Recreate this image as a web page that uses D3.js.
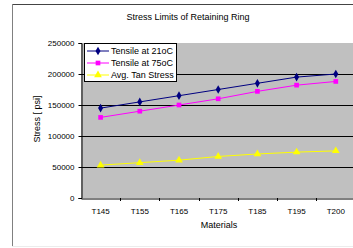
<!DOCTYPE html>
<html><head><meta charset="utf-8">
<script src="https://cdn.jsdelivr.net/npm/d3@7"></script>
<style>html,body{margin:0;padding:0;background:#fff;}svg{display:block;font-family:"Liberation Sans",Arial,sans-serif;}</style>
</head><body>
<svg id="c" width="353" height="248"></svg>
<script>
const categories = ["T145","T155","T165","T175","T185","T195","T200"];
const tensile21 = [145000,155000,165000,175000,185000,195000,200000];
const tensile75 = [130000,140000,150000,160000,172000,182000,188000];
const avgTan = [53000,57000,61000,67000,71000,74000,76000];
const yTicks = [0,50000,100000,150000,200000,250000];
const seriesNames = ["Tensile at 21oC","Tensile at 75oC","Avg. Tan Stress"];

const svg = d3.select("#c");
// outer frame
svg.append("line").attr("x1",12).attr("x2",353).attr("y1",4.5).attr("y2",4.5).attr("stroke","#444");
svg.append("line").attr("x1",12.5).attr("x2",12.5).attr("y1",4).attr("y2",247).attr("stroke","#808080");
svg.append("line").attr("x1",12).attr("x2",353).attr("y1",246.5).attr("y2",246.5).attr("stroke","#ececec");

const x = d3.scaleBand().domain(categories).range([81,355.4]).padding(0);
const y = d3.scaleLinear().domain([0,250000]).range([198,43]);

// plot area
svg.append("rect").attr("x",81).attr("y",43).attr("width",355.4-81).attr("height",155).attr("fill","#c0c0c0");

// gridlines
svg.append("g").selectAll("line").data(yTicks.filter(d=>d>0 && d<250000)).join("line")
  .attr("x1",81).attr("x2",356).attr("y1",d=>Math.round(y(d))+0.5).attr("y2",d=>Math.round(y(d))+0.5)
  .attr("stroke","#000").attr("stroke-width",1);

// y axis
const ya = svg.append("g").attr("transform","translate(81.5,0)")
  .call(d3.axisLeft(y).tickValues(yTicks).tickSize(3).tickPadding(4).tickFormat(d3.format("d")));
ya.select(".domain").attr("stroke","#000");
ya.selectAll("text").attr("font-size",8).attr("font-family","Liberation Sans, Arial, sans-serif").attr("fill","#000");

// x axis
const xa = svg.append("g").attr("transform","translate(0,198.5)")
  .call(d3.axisBottom(x).tickSize(0).tickPadding(10));
xa.select(".domain").attr("stroke","#000");
xa.selectAll("text").attr("font-size",8).attr("font-family","Liberation Sans, Arial, sans-serif").attr("fill","#000");
svg.append("g").selectAll("line").data(categories.slice(1)).join("line")
  .attr("x1",d=>Math.round(x(d))+0.5).attr("x2",d=>Math.round(x(d))+0.5).attr("y1",198).attr("y2",201)
  .attr("stroke","#000");

// titles
svg.append("text").attr("x",188).attr("y",20).attr("text-anchor","middle").attr("font-size",9).text("Stress Limits of Retaining Ring");
svg.append("text").attr("transform","translate(40,119) rotate(-90)").attr("text-anchor","middle").attr("font-size",9).text("Stress [ psi]");
svg.append("text").attr("x",219).attr("y",228).attr("text-anchor","middle").attr("font-size",9).text("Materials");

const series = [
  {name:seriesNames[0], values:tensile21, color:"#000080", shape:d3.symbolDiamond, size:22},
  {name:seriesNames[1], values:tensile75, color:"#ff00ff", shape:d3.symbolSquare, size:22},
  {name:seriesNames[2], values:avgTan, color:"#ffff00", shape:d3.symbolTriangle, size:26}
];
const cx = c => x(c)+x.bandwidth()/2;
const line = d3.line().x((d,i)=>cx(categories[i])).y(d=>y(d));
series.forEach(s=>{
  svg.append("path").attr("d",line(s.values)).attr("fill","none").attr("stroke",s.color).attr("stroke-width",1);
  svg.append("g").selectAll("path").data(s.values).join("path")
    .attr("transform",(d,i)=>`translate(${cx(categories[i])},${y(d)})`)
    .attr("d",d3.symbol().type(s.shape).size(s.size)).attr("fill",s.color);
});

// legend
const lg = svg.append("g");
lg.append("rect").attr("x",84.5).attr("y",43.5).attr("width",92).attr("height",38).attr("fill","#fff").attr("stroke","#000");
series.forEach((s,i)=>{
  const yy = 51+i*12;
  lg.append("line").attr("x1",87).attr("x2",109).attr("y1",yy).attr("y2",yy).attr("stroke",s.color);
  lg.append("path").attr("transform",`translate(98,${yy})`).attr("d",d3.symbol().type(s.shape).size(s.size)).attr("fill",s.color);
  lg.append("text").attr("x",111).attr("y",yy+3).attr("font-size",9).text(s.name);
});
</script>
</body></html>
